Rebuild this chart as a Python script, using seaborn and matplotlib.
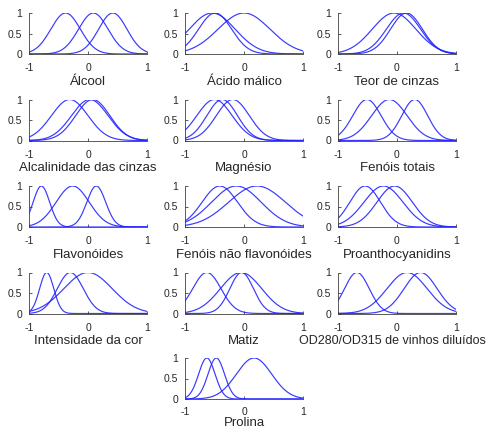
import numpy as np
import pandas as pd
import matplotlib
matplotlib.use("Agg")
import matplotlib.pyplot as plt
import seaborn as sns

# Gaussian membership functions (centre, sigma) for each wine attribute
names = [
    "Álcool", "Ácido málico", "Teor de cinzas",
    "Alcalinidade das cinzas", "Magnésio", "Fenóis totais",
    "Flavonóides", "Fenóis não flavonóides", "Proanthocyanidins",
    "Intensidade da cor", "Matiz", "OD280/OD315 de vinhos diluídos",
    "Prolina",
]
alcool_c, alcool_s = [-0.38, 0.09, 0.42], [0.25, 0.25, 0.24]
malico_c, malico_s = [-0.54, -0.49, 0.0], [0.39, 0.28, 0.44]
cinzas_c, cinzas_s = [-0.05, 0.11, 0.16], [0.37, 0.29, 0.27]
alcal_c, alcal_s = [-0.31, 0.03, 0.08], [0.31, 0.31, 0.29]
magnes_c, magnes_s = [-0.50, -0.37, -0.19], [0.30, 0.26, 0.28]
fenois_c, fenois_s = [-0.51, -0.13, 0.30], [0.24, 0.30, 0.22]
flavon_c, flavon_s = [-0.79, -0.26, 0.14], [0.14, 0.28, 0.16]
naoflav_c, naoflav_s = [-0.41, -0.13, 0.22], [0.30, 0.42, 0.48]
proant_c, proant_s = [-0.54, -0.23, -0.04], [0.26, 0.33, 0.30]
intens_c, intens_s = [-0.70, -0.30, 0.0], [0.12, 0.22, 0.41]
matiz_c, matiz_s = [-0.63, -0.05, -0.04], [0.24, 0.35, 0.20]
od_c, od_s = [-0.68, 0.17, 0.40], [0.21, 0.34, 0.28]
prolina_c, prolina_s = [-0.63, -0.47, 0.17], [0.14, 0.14, 0.30]

params = [
    (alcool_c, alcool_s), (malico_c, malico_s), (cinzas_c, cinzas_s),
    (alcal_c, alcal_s), (magnes_c, magnes_s), (fenois_c, fenois_s),
    (flavon_c, flavon_s), (naoflav_c, naoflav_s), (proant_c, proant_s),
    (intens_c, intens_s), (matiz_c, matiz_s), (od_c, od_s),
    (prolina_c, prolina_s),
]

x_ticks = [-1, 0, 1]
y_ticks = [0, 0.5, 1]
y_tick_labels = ["0", "0.5", "1"]

sns.set_style("ticks")
plt.rcParams["font.family"] = ["Liberation Sans", "DejaVu Sans"]

W, H = 492, 430
fig = plt.figure(figsize=(W / 100, H / 100), dpi=100)

col_left = [29, 185, 338]
row_top = [13, 99.5, 186, 272.5, 358]
ax_w, ax_h = 118, 41

line_color = "#2323ff"
axis_color = "#404040"
xs = np.linspace(-1, 1, 301)

for i, (name, (cs, ss)) in enumerate(zip(names, params)):
    if i < 12:
        r, c = divmod(i, 3)
    else:
        r, c = 4, 1
    left = col_left[c]
    top = row_top[r]
    ax = fig.add_axes([left / W, 1 - (top + ax_h) / H, ax_w / W, ax_h / H])
    frames = []
    for k, (cc, sg) in enumerate(zip(cs, ss)):
        frames.append(pd.DataFrame({
            "x": xs,
            "mu": np.exp(-(xs - cc) ** 2 / (2 * sg ** 2)),
            "mf": f"mf{k + 1}",
        }))
    df = pd.concat(frames, ignore_index=True)
    sns.lineplot(data=df, x="x", y="mu", hue="mf", ax=ax, legend=False,
                 palette=[line_color] * len(cs), linewidth=0.85, alpha=0.9)
    ax.set_xlim(-1, 1)
    ax.set_ylim(0, 1)
    ax.set_xticks(x_ticks)
    ax.set_xticklabels([str(t) for t in x_ticks])
    ax.set_yticks(y_ticks)
    ax.set_yticklabels(y_tick_labels)
    ax.set_ylabel("")
    last = (r == 4)
    long_label = len(name) > 25
    ax.set_xlabel(name, fontsize=9.0 if long_label else 9.5, color="#262626",
                  labelpad=0.5 if last else 2)
    if long_label:
        # keep the long label inside the figure edge
        ax.xaxis.set_label_coords(0.465, -0.53)
    for side in ("top", "right"):
        ax.spines[side].set_visible(False)
    for side in ("left", "bottom"):
        ax.spines[side].set_color(axis_color)
        ax.spines[side].set_linewidth(0.6)
    ax.tick_params(direction="in", length=2.5, width=0.6, color=axis_color,
                   labelsize=7.5, labelcolor="#262626")
    ax.tick_params(axis="x", pad=5.5 if last else 6.5)
    ax.tick_params(axis="y", pad=5)

fig.savefig("out.png", dpi=100)
